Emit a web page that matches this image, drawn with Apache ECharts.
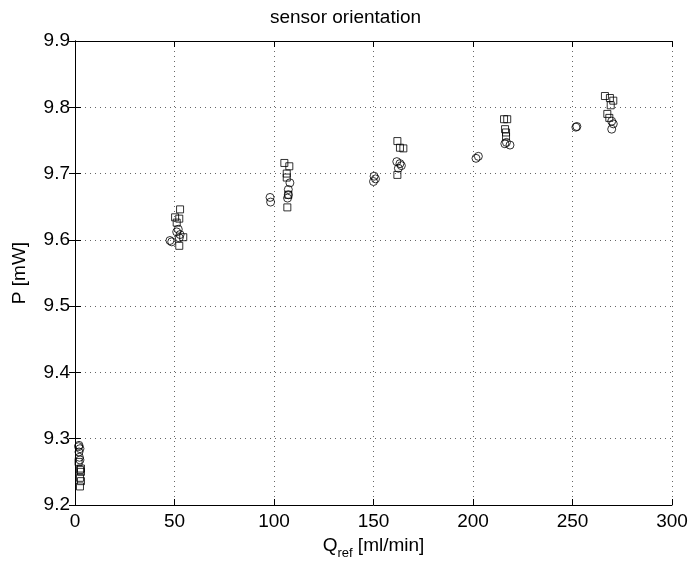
<!DOCTYPE html>
<html><head><meta charset="utf-8">
<script src="https://cdn.jsdelivr.net/npm/echarts@6/dist/echarts.min.js"></script>
<style>html,body{margin:0;padding:0;background:#fff}#c{width:691px;height:565px}</style>
</head><body><div id="c"></div>
<script>
const titleText = "sensor orientation";
const xTicks = [0, 50, 100, 150, 200, 250, 300];
const yTicks = [9.2, 9.3, 9.4, 9.5, 9.6, 9.7, 9.8, 9.9];

const circleX = [2,2.5,2,1.8,2.5,2.2, 51.9,51.1,47.7,48.6,52.4,52.8, 108,107.2,107.2,106.8,98,98.3, 161.7,163.3,164,162.5,150.3,150,151, 216.8,218.6,216,201.5,202.7, 269.7,270.5,269.7,251.7,252.2];
const circleY = [9.290,9.285,9.280,9.288,9.268,9.272, 9.616,9.612,9.599,9.597,9.603,9.608, 9.686,9.676,9.668,9.663,9.664,9.657, 9.718,9.715,9.712,9.708,9.696,9.688,9.692, 9.747,9.743,9.745,9.723,9.726, 9.779,9.775,9.767,9.770,9.771];

const squareX = [1.8,3,2.5,3,2.5,3,2.5, 52.8,50.3,52.4,51.1,54.4,52.4, 105.2,107.7,106.4,106.4,107.2,106.7, 162,163.3,165,162, 215.6,217.2,216.1,216.6,216.6, 266.3,268.8,270.5,269.2,267.5,268.5];
const squareY = [9.265,9.255,9.253,9.250,9.241,9.236,9.228, 9.646,9.634,9.632,9.626,9.604,9.591, 9.716,9.711,9.700,9.694,9.668,9.649, 9.749,9.739,9.738,9.698, 9.782,9.782,9.767,9.762,9.756, 9.817,9.814,9.810,9.803,9.790,9.784];

const font = "Liberation Sans, Arial, Helvetica, sans-serif";
const fs = 19;
const chart = echarts.init(document.getElementById('c'));
const circles = circleX.map((x,i)=>[x, circleY[i]]);
const squares = squareX.map((x,i)=>[x, squareY[i]]);
const axisLineStyle = {show:true, lineStyle:{color:'#000', width:1}};
const baseX = {type:'value', min:xTicks[0], max:xTicks[xTicks.length-1], interval:xTicks[1]-xTicks[0]};
const baseY = {type:'value', min:yTicks[0], max:yTicks[yTicks.length-1], interval:0.1};
chart.setOption({
  animation:false,
  backgroundColor:'#fff',
  title:{text:titleText, left:'center', top:3, textStyle:{fontFamily:font, fontSize:fs, fontWeight:'normal', color:'#000'}},
  grid:{left:75, right:19, top:41, bottom:54, containLabel:false},
  xAxis:[
    Object.assign({}, baseX, {position:'bottom',
      name:'{m|Q}{s|ref}{m| [ml/min]}', nameLocation:'middle', nameGap:26,
      nameTextStyle:{rich:{m:{fontFamily:font, fontSize:fs, color:'#000'}, s:{fontFamily:font, fontSize:13, color:'#000', padding:[16,0,0,0]}}},
      axisLine:axisLineStyle, axisTick:{show:true, inside:true, length:6, lineStyle:{color:'#000'}},
      axisLabel:{fontFamily:font, fontSize:fs, color:'#000', margin:7},
      splitLine:{show:true, lineStyle:{color:'#000', type:[1,4], width:1, opacity:0.6}}}),
    Object.assign({}, baseX, {position:'top', axisLine:axisLineStyle,
      axisTick:{show:true, inside:true, length:6, lineStyle:{color:'#000'}}, axisLabel:{show:false}, splitLine:{show:false}})
  ],
  yAxis:[
    Object.assign({}, baseY, {position:'left',
      name:'P [mW]', nameLocation:'middle', nameGap:46, nameRotate:90,
      nameTextStyle:{fontFamily:font, fontSize:fs, color:'#000'},
      axisLine:axisLineStyle, axisTick:{show:true, inside:true, length:6, lineStyle:{color:'#000'}},
      axisLabel:{fontFamily:font, fontSize:fs, color:'#000', margin:5, formatter:v=>v.toFixed(1)},
      splitLine:{show:true, lineStyle:{color:'#000', type:[1,4], width:1, opacity:0.6}}}),
    Object.assign({}, baseY, {position:'right', axisLine:axisLineStyle,
      axisTick:{show:true, inside:true, length:6, lineStyle:{color:'#000'}}, axisLabel:{show:false}, splitLine:{show:false}})
  ],
  series:[
    {type:'scatter', data:circles, symbol:'circle', symbolSize:8, xAxisIndex:0, yAxisIndex:0,
     itemStyle:{color:'rgba(0,0,0,0)', borderColor:'#000', borderWidth:1}},
    {type:'scatter', data:squares, symbol:'rect', symbolSize:7, xAxisIndex:0, yAxisIndex:0,
     itemStyle:{color:'rgba(0,0,0,0)', borderColor:'#000', borderWidth:1}}
  ]
});
</script></body></html>
